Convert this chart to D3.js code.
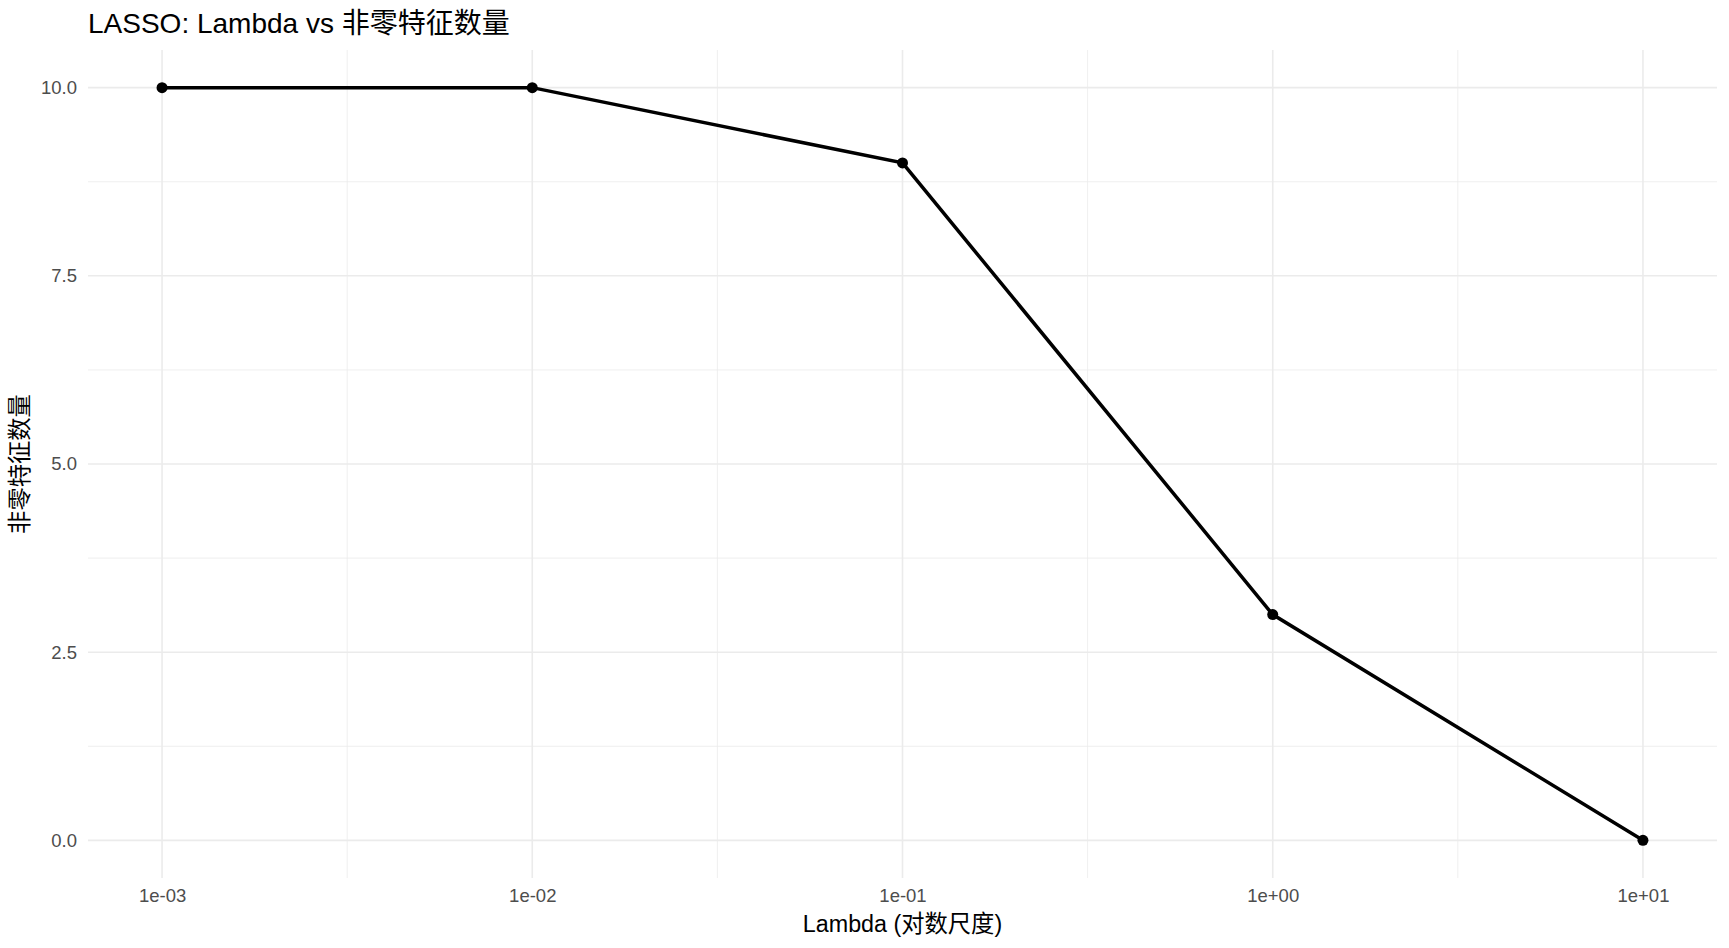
<html>
<meta charset="utf-8">
<style>
body { margin: 0; background: #fff; }
text { font-family: "Liberation Sans", Arial, "Noto Sans CJK SC", sans-serif; }
.grid-major { stroke: #ebebeb; stroke-width: 1.6px; }
.grid-minor { stroke: #ebebeb; stroke-width: 0.8px; }
.line { fill: none; stroke: #000; stroke-width: 3.5px; }
</style>
<body>
<script src="https://d3js.org/d3.v7.min.js"></script>
<script>

// data
var lambdas = [0.001, 0.01, 0.1, 1, 10];
var nonzero = [10, 10, 9, 3, 0];
var xTicks = [0.001, 0.01, 0.1, 1, 10];
var xTickLabels = ["1e-03", "1e-02", "1e-01", "1e+00", "1e+01"];
var yTicks = [0, 2.5, 5, 7.5, 10];
var yTickLabels = ["0.0", "2.5", "5.0", "7.5", "10.0"];

var data = lambdas.map(function(l, i) { return {lambda: l, n: nonzero[i]}; });

var W = 1729, H = 948;
var panel = {left: 88, right: 1717, top: 50, bottom: 878};

// log x with ggplot style 5% expansion
var lx = [Math.log10(d3.min(lambdas)), Math.log10(d3.max(lambdas))];
var ex = (lx[1] - lx[0]) * 0.05;
var x = d3.scaleLog()
    .domain([Math.pow(10, lx[0] - ex), Math.pow(10, lx[1] + ex)])
    .range([panel.left, panel.right]);

var ey = (d3.max(nonzero) - d3.min(nonzero)) * 0.05;
var y = d3.scaleLinear()
    .domain([d3.min(nonzero) - ey, d3.max(nonzero) + ey])
    .range([panel.bottom, panel.top]);

var svg = d3.select("body").append("svg")
    .attr("width", W)
    .attr("height", H);

// minor grid (midpoints between major breaks)
var xMinor = d3.pairs(xTicks).map(function(p) { return Math.sqrt(p[0] * p[1]); });
var yMinor = d3.pairs(yTicks).map(function(p) { return (p[0] + p[1]) / 2; });

svg.append("g").selectAll("line").data(yMinor).enter().append("line")
    .attr("class", "grid-minor")
    .attr("x1", panel.left).attr("x2", panel.right)
    .attr("y1", function(d) { return y(d); }).attr("y2", function(d) { return y(d); });

svg.append("g").selectAll("line").data(xMinor).enter().append("line")
    .attr("class", "grid-minor")
    .attr("y1", panel.top).attr("y2", panel.bottom)
    .attr("x1", function(d) { return x(d); }).attr("x2", function(d) { return x(d); });

// major grid
svg.append("g").selectAll("line").data(yTicks).enter().append("line")
    .attr("class", "grid-major")
    .attr("x1", panel.left).attr("x2", panel.right)
    .attr("y1", function(d) { return y(d); }).attr("y2", function(d) { return y(d); });

svg.append("g").selectAll("line").data(xTicks).enter().append("line")
    .attr("class", "grid-major")
    .attr("y1", panel.top).attr("y2", panel.bottom)
    .attr("x1", function(d) { return x(d); }).attr("x2", function(d) { return x(d); });

// axes (labels only, theme_minimal)
var xAxis = svg.append("g")
    .attr("transform", "translate(0," + panel.bottom + ")")
    .call(d3.axisBottom(x).tickValues(xTicks)
      .tickFormat(function(d, i) { return xTickLabels[i]; })
      .tickSize(0).tickPadding(11));
xAxis.select(".domain").remove();
xAxis.selectAll("text")
    .attr("fill", "#4d4d4d")
    .style("font-size", "18.5px");

var yAxis = svg.append("g")
    .attr("transform", "translate(" + panel.left + ",0)")
    .call(d3.axisLeft(y).tickValues(yTicks)
      .tickFormat(function(d, i) { return yTickLabels[i]; })
      .tickSize(0).tickPadding(11));
yAxis.select(".domain").remove();
yAxis.selectAll("text")
    .attr("fill", "#4d4d4d")
    .style("font-size", "18.5px");

// line + points
var valueline = d3.line()
    .x(function(d) { return x(d.lambda); })
    .y(function(d) { return y(d.n); });

svg.append("path")
    .datum(data)
    .attr("class", "line")
    .attr("d", valueline);

svg.append("g").selectAll("circle").data(data).enter().append("circle")
    .attr("cx", function(d) { return x(d.lambda); })
    .attr("cy", function(d) { return y(d.n); })
    .attr("r", 5.5)
    .attr("fill", "#000");

// title and axis titles
svg.append("text")
    .attr("x", panel.left)
    .attr("y", 33)
    .style("font-size", "28px")
    .attr("fill", "#000")
    .text("LASSO: Lambda vs 非零特征数量");

svg.append("text")
    .attr("x", (panel.left + panel.right) / 2)
    .attr("y", 932)
    .attr("text-anchor", "middle")
    .style("font-size", "23.3px")
    .attr("fill", "#000")
    .text("Lambda (对数尺度)");

svg.append("text")
    .attr("transform", "translate(28," + (panel.top + panel.bottom) / 2 + ") rotate(-90)")
    .attr("text-anchor", "middle")
    .style("font-size", "23.3px")
    .attr("fill", "#000")
    .text("非零特征数量");

</script>
</body>
</html>
